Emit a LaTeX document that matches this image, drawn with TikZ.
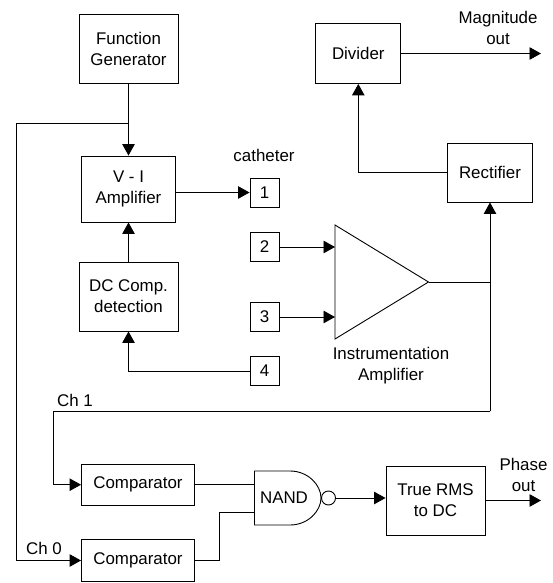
\documentclass[tikz,border=0pt]{standalone}
\usepackage{fontspec}
\setmainfont{Liberation Sans}
\usetikzlibrary{arrows.meta}
\tikzset{
  blockbox/.style={draw,inner sep=0pt,align=center},
  portbox/.style={draw,inner sep=0pt,minimum size=29pt},
  label/.style={inner sep=0pt,align=center},
  wire/.style={line width=.9pt},
  arrow/.style={wire,-{Triangle[length=11.5pt,width=12.5pt]}}
}
\begin{document}
\begin{tikzpicture}[x=1pt,y=-1pt,line width=.9pt,font=\fontsize{16.9}{21}\selectfont]
\useasboundingbox (0,0) rectangle (552,583);
% blocks
\node[blockbox,minimum width=99pt,minimum height=69pt] (fungen) at (128.5,48.5) {Function\\Generator};
\node[blockbox,minimum width=94pt,minimum height=66pt] (viamp) at (128.5,189) {V - I\\Amplifier};
\node[blockbox,minimum width=99pt,minimum height=69pt] (dccomp) at (128.5,296.5) {DC Comp.\\detection};
\node[blockbox,minimum width=85pt,minimum height=60pt] (divider) at (358.3,53.5) {Divider};
\node[blockbox,minimum width=85pt,minimum height=59pt] (rectifier) at (490,172.5) {Rectifier};
\node[blockbox,minimum width=113pt,minimum height=41.5pt] (compone) at (138,484.7) {Comparator};
\node[blockbox,minimum width=113pt,minimum height=41.5pt] (compzero) at (138,560.5) {Comparator};
\node[blockbox,minimum width=99pt,minimum height=69pt] (rms) at (435.5,500.5) {True RMS\\to DC};
\node[portbox] (one) at (264.5,192.5) {1};
\node[portbox] (two) at (264.5,247) {2};
\node[portbox] (three) at (264.5,317) {3};
\node[portbox] (four) at (264.5,371) {4};
% amplifier and gate
\coordinate (ampin) at (335,247); \coordinate (ampinb) at (335,317); \coordinate (ampout) at (428.5,282);
\draw (335,225)--(ampout)--(335,339)--cycle;
\coordinate (nanda) at (254.5,484.7); \coordinate (nandb) at (254.5,512);
\draw (254.5,471)--(290,471) .. controls (308,471) and (321,485) .. (321,498) .. controls (321,511) and (308,525) .. (290,525)--(254.5,525)--cycle;
\node[label] (nand) at (284,498) {NAND};
\node[draw,circle,inner sep=0pt,minimum size=14pt] (bubble) at (328.5,498) {};
% free ends and corners
\coordinate (split) at (128.5,123); \coordinate (leftcorner) at (16,123);
\coordinate (chone) at (490,411); \coordinate (ampjoin) at (490,282);
\coordinate (chonecorner) at (53.5,411); \coordinate (magout) at (541,53.5); \coordinate (phaseout) at (541,500.5);
\coordinate (nandjog) at (219,512);
% connectors
\draw[arrow] (fungen.south)--(viamp.north);
\draw[arrow] (dccomp.north)--(viamp.south);
\draw[arrow] (viamp.east|-one.west)--(one.west);
\draw[arrow] (four.west)-|(dccomp.south);
\draw[arrow] (two.east)--(ampin);
\draw[arrow] (three.east)--(ampinb);
\draw[wire] (ampout)--(ampjoin);
\draw[arrow] (chone)--(rectifier.south);
\draw[arrow] (rectifier.west)-|(divider.south);
\draw[arrow] (divider.east)--(magout);
\draw[arrow] (chone)--(chonecorner)|-(compone.west);
\draw[arrow] (split)--(leftcorner)|-(compzero.west);
\draw[wire] (compone.east)--(nanda);
\draw[wire] (compzero.east)-|(nandjog)--(nandb);
\draw[arrow] (bubble.east)--(bubble-|rms.west);
\draw[arrow] (rms.east)--(phaseout);
% texts
\node[label] (cathlabel) at (264,155) {catheter};
\node[label] (maglabel) at (498,28) {Magnitude\\out};
\node[label] (instlabel) at (391,366) {Instrumentation\\Amplifier};
\node[label] (chonelabel) at (75,400) {Ch 1};
\node[label] (chzerolabel) at (44,548) {Ch 0};
\node[label] (phaselabel) at (523.5,475) {Phase\\out};
\end{tikzpicture}
\end{document}
